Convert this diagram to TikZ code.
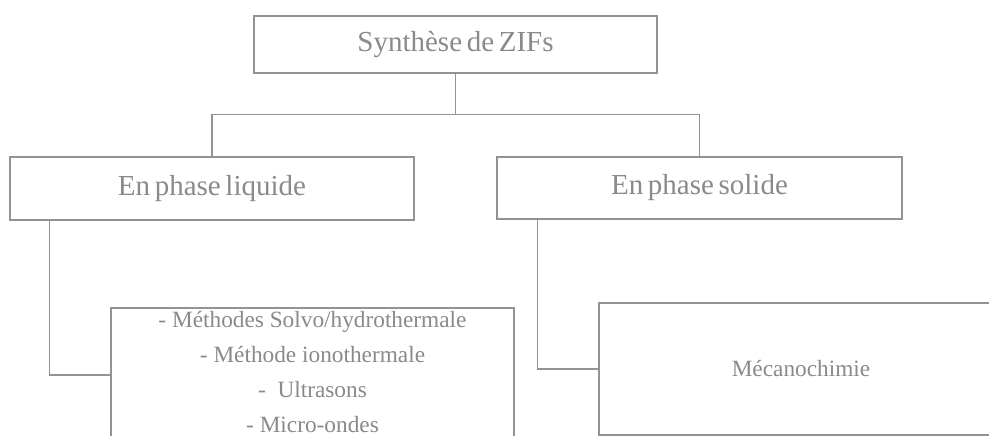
\documentclass[tikz,border=0pt]{standalone}
\usepackage{fontspec}
\setmainfont{Liberation Serif}
\definecolor{boxline}{HTML}{939393}
\definecolor{boxtext}{HTML}{8A8A8A}
\newcommand\tsp{\hspace{0.16em}}
\tikzset{
  box/.style={draw=boxline, line width=1.4pt, fill=white, rectangle, inner sep=0pt, text=boxtext, align=center},
  bigtext/.style={font=\fontsize{29}{35}\selectfont},
  smalltext/.style={font=\fontsize{23.3}{35}\selectfont},
  link/.style={draw=boxline, line width=1.4pt}
}
\begin{document}
\begin{tikzpicture}[x=1pt, y=-1pt]
\useasboundingbox (0,0) rectangle (989,436);
\clip (0,0) rectangle (989,436);
\fill[white] (0,0) rectangle (989,436);
\node[box, bigtext, minimum width=403pt, minimum height=57pt] (top) at (455.5,44.5) {Synthèse\tsp de\tsp ZIFs};
\node[box, bigtext, minimum width=404pt, minimum height=63pt] (liquid) at (212,188.5) {En\tsp phase\tsp liquide};
\node[box, bigtext, minimum width=405pt, minimum height=62pt] (solid) at (699.5,188) {En\tsp phase\tsp solide};
\node[box, smalltext, minimum width=403pt, minimum height=134pt] (methods) at (312.5,375) {- Méthodes Solvo/hydrothermale\\- Méthode ionothermale\\-\ \ Ultrasons\\- Micro-ondes\rule[-7pt]{0pt}{7pt}};
\node[box, smalltext, minimum width=404pt, minimum height=132pt] (meca) at (801,369) {Mécanochimie};
\coordinate (bus) at (455.5,114.5);
\draw[link] (top.south) -- (bus);
\draw[link] (liquid.north) |- (bus) -| (solid.north);
\draw[link] ([xshift=40pt]liquid.south west) |- (methods.west);
\draw[link] ([xshift=41pt]solid.south west) |- (meca.west);
\end{tikzpicture}
\end{document}
